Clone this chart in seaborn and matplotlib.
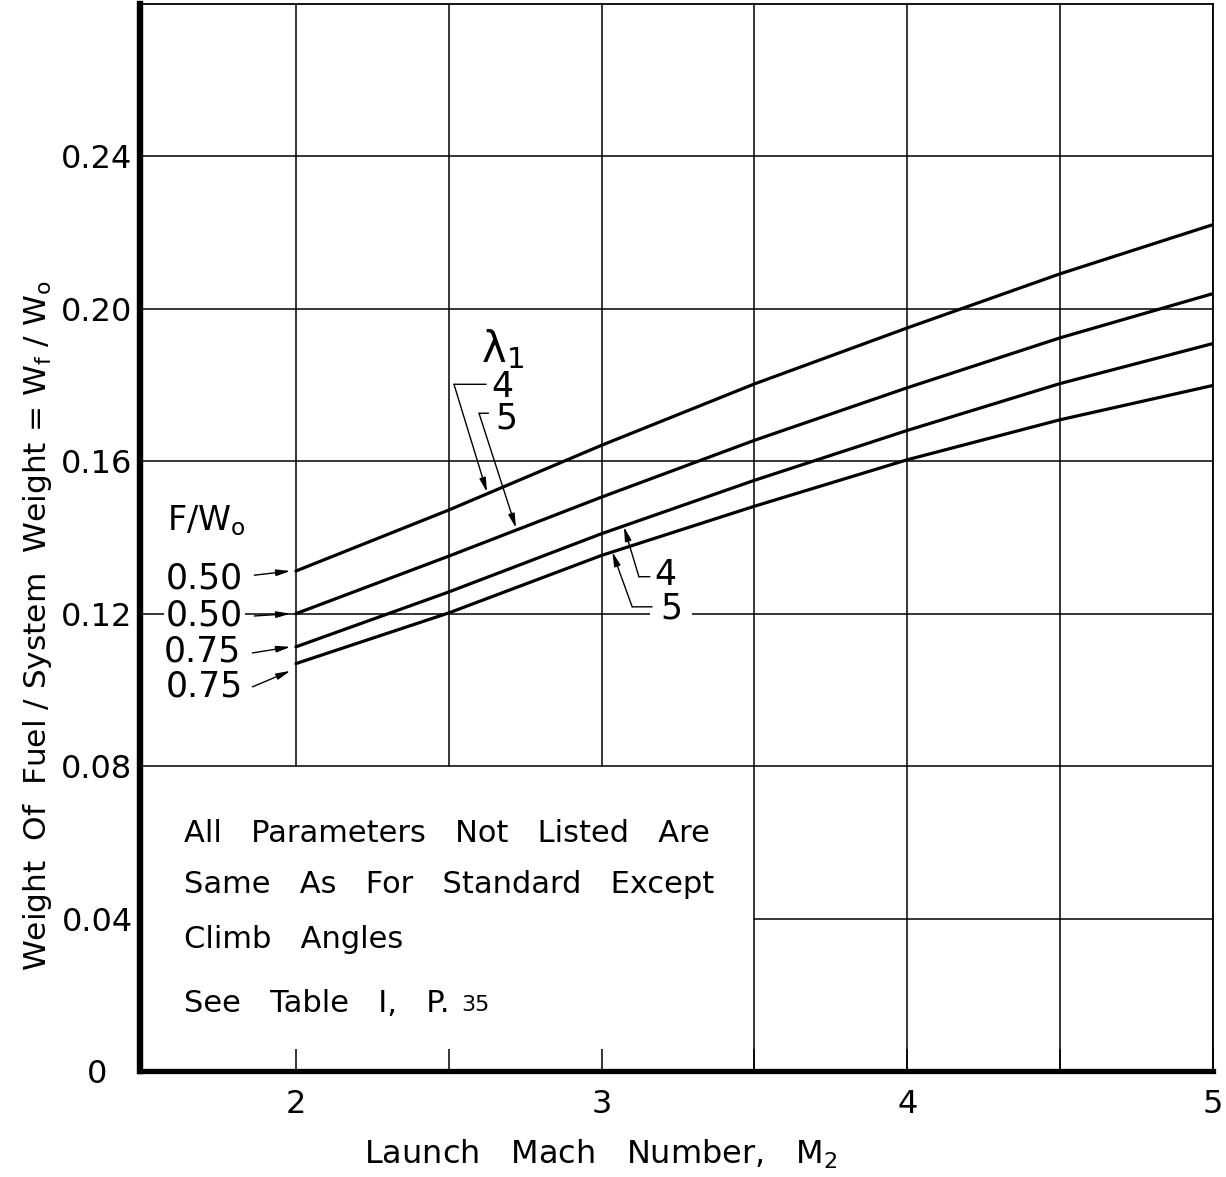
import numpy as np
import pandas as pd
import matplotlib
matplotlib.use("Agg")
import matplotlib.pyplot as plt
import seaborn as sns

# Launch Mach number stations
mach = [2.0, 2.5, 3.0, 3.5, 4.0, 4.5, 5.0]

# Fuel weight fraction Wf/Wo for each thrust loading F/Wo and lambda_1
fw050_lam4 = [0.1312, 0.1472, 0.1642, 0.1803, 0.1950, 0.2092, 0.2221]
fw050_lam5 = [0.1200, 0.1351, 0.1506, 0.1655, 0.1793, 0.1924, 0.2040]
fw075_lam4 = [0.1113, 0.1257, 0.1410, 0.1550, 0.1681, 0.1804, 0.1909]
fw075_lam5 = [0.1069, 0.1202, 0.1353, 0.1482, 0.1604, 0.1709, 0.1799]

curve_names = ["0.50 / 4", "0.50 / 5", "0.75 / 4", "0.75 / 5"]
curve_values = [fw050_lam4, fw050_lam5, fw075_lam4, fw075_lam5]
thrust_labels = ["0.50", "0.50", "0.75", "0.75"]

x_ticks = [2, 3, 4, 5]
x_minor = [2.5, 3.5, 4.5]
y_ticks = [0, 0.04, 0.08, 0.12, 0.16, 0.20, 0.24]
y_ticklabels = ["0", "0.04", "0.08", "0.12", "0.16", "0.20", "0.24"]

note_lines = ["All   Parameters   Not   Listed   Are",
              "Same   As   For   Standard   Except",
              "Climb   Angles",
              "See   Table   I,   P."]

XMIN, XMAX, YMIN, YMAX = 1.49, 5.0, 0.0, 0.28
NOTE_TOP = 0.08     # the note panel blanks the grid below this level
NOTE_RIGHT = 3.5    # ... and left of this Mach number

df = pd.DataFrame({
    "mach": np.tile(mach, len(curve_names)),
    "fuel": np.concatenate(curve_values),
    "curve": np.repeat(curve_names, len(mach)),
})

sns.set_theme(style="white")
plt.rcParams["font.family"] = ["DejaVu Sans"]
plt.rcParams["mathtext.fontset"] = "dejavusans"
for key in ("text.color", "axes.labelcolor", "xtick.color", "ytick.color",
            "axes.edgecolor"):
    plt.rcParams[key] = "black"

fig = plt.figure(figsize=(12.26, 11.77), dpi=100)
ax = fig.add_axes([0.1142, 0.0901, 0.8752, 0.9065])
ax.set_xlim(XMIN, XMAX)
ax.set_ylim(YMIN, YMAX)

# grid lines; the lower-left panel is left open for the note
grid_kw = dict(color="black", linewidth=1.1, zorder=1)
note_frac_y = (NOTE_TOP - YMIN) / (YMAX - YMIN)
note_frac_x = (NOTE_RIGHT - XMIN) / (XMAX - XMIN)
for gx in sorted(x_ticks + x_minor):
    if gx < NOTE_RIGHT:
        ax.axvline(gx, ymin=note_frac_y, ymax=1, **grid_kw)
    else:
        ax.axvline(gx, **grid_kw)
for gy in y_ticks[1:]:
    if gy < NOTE_TOP:
        ax.axhline(gy, xmin=note_frac_x, xmax=1, **grid_kw)
    else:
        ax.axhline(gy, **grid_kw)

sns.lineplot(data=df, x="mach", y="fuel", hue="curve", palette=["black"] * 4,
             legend=False, linewidth=2.3, ax=ax, zorder=3)

ax.set_xticks(x_ticks)
ax.set_xticks(x_minor, minor=True)
ax.set_yticks(y_ticks)
ax.set_yticklabels(y_ticklabels)
ax.set_xlabel(r"Launch   Mach   Number,   M$_\mathrm{2}$", fontsize=23, labelpad=13)
ax.set_ylabel(r"Weight  Of  Fuel / System  Weight = W$_\mathrm{f}$ / W$_\mathrm{o}$",
              fontsize=22.5, labelpad=5)
ax.xaxis.label.set_x(0.429)
ax.yaxis.label.set_y(0.417)

ax.tick_params(axis="x", which="both", direction="in", length=16, width=1.1,
               labelsize=23, pad=13, bottom=True, top=False)
ax.tick_params(axis="y", which="both", length=0, labelsize=23, pad=31)
for lbl in ax.get_yticklabels():
    lbl.set_horizontalalignment("center")

for side, lw in (("left", 4.6), ("bottom", 3.8), ("top", 1.3), ("right", 1.3)):
    ax.spines[side].set_visible(True)
    ax.spines[side].set_color("black")
    ax.spines[side].set_linewidth(lw)

arrow_kw = dict(arrowstyle="-|>,head_length=0.7,head_width=0.16",
                color="black", lw=1.0, shrinkA=0, shrinkB=0)
line_kw = dict(arrowstyle="-", color="black", lw=1.0, shrinkA=0, shrinkB=0)
white_box = dict(facecolor="white", edgecolor="none", pad=1.5)

# thrust-loading labels at the start of each curve
ax.text(1.706, 0.1445, r"F/W$_\mathrm{o}$", fontsize=24, ha="center", va="center")
label_pos = [(1.700, 0.1292), (1.700, 0.1196), (1.693, 0.1100), (1.700, 0.1008)]
arrow_tail = [(1.864, 0.1301), (1.864, 0.1194), (1.858, 0.1097), (1.858, 0.1008)]
tip_offset = [0.0, 0.0, 0.0, -0.0019]
for txt, (tx, ty), (ax0, ay0), vals, dy in zip(thrust_labels, label_pos,
                                               arrow_tail, curve_values, tip_offset):
    ax.text(tx, ty, txt, fontsize=25, ha="center", va="center", bbox=white_box,
            zorder=4)
    ax.annotate("", xy=(mach[0] - 0.018, vals[0] + dy), xytext=(ax0, ay0),
                arrowprops=arrow_kw, zorder=4)

# lambda_1 call-outs on the upper pair
ax.text(2.675, 0.1895, "\u03bb" + r"$_\mathrm{1}$", fontsize=30, ha="center",
        va="center")
ax.text(2.674, 0.1794, "4", fontsize=25, ha="center", va="center")
ax.text(2.687, 0.1713, "5", fontsize=25, ha="center", va="center")
ax.annotate("", xy=(2.622, 0.1802), xytext=(2.517, 0.1802), arrowprops=line_kw)
ax.annotate("", xy=(2.625, 0.1519), xytext=(2.517, 0.1802), arrowprops=arrow_kw)
ax.annotate("", xy=(2.630, 0.1726), xytext=(2.599, 0.1726), arrowprops=line_kw)
ax.annotate("", xy=(2.720, 0.1425), xytext=(2.599, 0.1726), arrowprops=arrow_kw)

# lambda_1 call-outs on the lower pair
ax.text(3.227, 0.1214, "5", fontsize=25, ha="center", va="center",
        bbox=dict(facecolor="white", edgecolor="none", pad=7), zorder=4)
ax.text(3.21, 0.1301, "4", fontsize=25, ha="center", va="center", zorder=6)
ax.annotate("", xy=(3.158, 0.1297), xytext=(3.122, 0.1297), arrowprops=line_kw,
            zorder=5)
ax.annotate("", xy=(3.073, 0.1428), xytext=(3.122, 0.1297), arrowprops=arrow_kw,
            zorder=5)
ax.annotate("", xy=(3.165, 0.1218), xytext=(3.100, 0.1218), arrowprops=line_kw,
            zorder=5)
ax.annotate("", xy=(3.035, 0.1362), xytext=(3.100, 0.1218), arrowprops=arrow_kw,
            zorder=5)

# explanatory note
note_y = [0.0601, 0.0466, 0.0322, 0.0156]
for line, ny in zip(note_lines, note_y):
    t = ax.text(1.633, ny, line, fontsize=22, ha="left", va="baseline", zorder=4)
ax.annotate("35", xy=(1, 0), xycoords=t, xytext=(9, 4.8),
            textcoords="offset points", fontsize=16, ha="left", va="baseline")

fig.savefig("out.png", dpi=100)
